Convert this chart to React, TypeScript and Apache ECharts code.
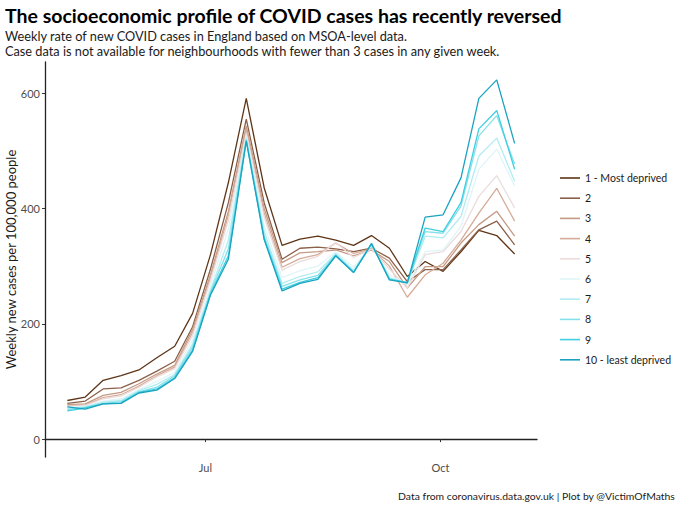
import React, { useEffect, useRef } from 'react';
import * as echarts from 'echarts';

const dates = [
  '2021-05-08', '2021-05-15', '2021-05-22', '2021-05-29', '2021-06-05', '2021-06-12',
  '2021-06-19', '2021-06-26', '2021-07-03', '2021-07-10', '2021-07-17', '2021-07-24',
  '2021-07-31', '2021-08-07', '2021-08-14', '2021-08-21', '2021-08-28', '2021-09-04',
  '2021-09-11', '2021-09-18', '2021-09-25', '2021-10-02', '2021-10-09', '2021-10-16',
  '2021-10-23', '2021-10-30'
];

const decileNames = [
  '1 - Most deprived', '2', '3', '4', '5', '6', '7', '8', '9', '10 - least deprived'
];

const decileColors = [
  '#5e3517', '#8b6049', '#c49a85', '#d6ab97', '#ecdcdc',
  '#dff5f8', '#b0ecf2', '#86e0ea', '#3fcfe0', '#1aa3c0'
];

const d1 = [67, 73, 102, 110, 120, 141, 161, 218, 320, 445, 591, 436, 336, 347, 352, 345, 336, 353, 331, 282, 308, 291, 325, 362, 353, 321];
const d2 = [62, 66, 87, 89, 102, 118, 135, 195, 295, 410, 555, 410, 312, 331, 333, 330, 325, 331, 314, 273, 294, 294, 328, 363, 378, 337];
const d3 = [60, 61, 76, 81, 96, 113, 128, 190, 285, 395, 543, 400, 306, 323, 325, 328, 318, 328, 308, 262, 299, 299, 340, 372, 395, 352];
const d4 = [58, 59, 72, 77, 92, 110, 125, 185, 280, 388, 538, 392, 298, 313, 320, 340, 322, 330, 300, 246, 285, 305, 345, 392, 435, 378];
const d5 = [57, 58, 70, 75, 90, 108, 122, 180, 275, 380, 530, 385, 293, 308, 317, 341, 315, 330, 295, 262, 320, 325, 360, 421, 457, 401];
const d6 = [55, 57, 66, 70, 86, 100, 116, 172, 265, 365, 525, 370, 280, 292, 300, 325, 298, 335, 285, 268, 325, 328, 369, 468, 503, 439];
const d7 = [53, 56, 64, 67, 84, 95, 112, 165, 258, 345, 522, 360, 270, 282, 290, 322, 293, 337, 280, 270, 352, 349, 386, 491, 522, 447];
const d8 = [51, 55, 62, 65, 82, 90, 110, 160, 255, 330, 520, 352, 265, 276, 284, 320, 290, 338, 278, 271, 360, 357, 404, 526, 561, 477];
const d9 = [49, 54, 61, 63, 81, 87, 107, 155, 252, 318, 518, 348, 260, 272, 280, 318, 289, 339, 277, 272, 366, 360, 410, 538, 570, 468];
const d10 = [56, 52, 61, 62, 80, 85, 105, 152, 250, 312, 517, 346, 257, 270, 277, 318, 289, 339, 276, 271, 385, 389, 453, 591, 623, 513];

const seriesValues = [d1, d2, d3, d4, d5, d6, d7, d8, d9, d10];

const xTickDates = ['2021-07-01', '2021-10-01'];
const xTickLabels = ['Jul', 'Oct'];
const yTicks = [0, 200, 400, 600];

const FONT = 'Lato, "Noto Sans", sans-serif';

// days since epoch, so the x axis can be a plain value axis
const toDay = (s: string) => Date.parse(s + 'T00:00:00Z') / 86400000;

const App: React.FC = () => {
  const chartRef = useRef<HTMLDivElement>(null);

  useEffect(() => {
    if (!chartRef.current) return;
    const chart = echarts.init(chartRef.current, undefined, { renderer: 'svg' });

    const days = dates.map(toDay);
    const span = days[days.length - 1] - days[0];
    const tickDays = xTickDates.map(toDay);

    const option = {
      animation: false,
      textStyle: { fontFamily: FONT },
      grid: { left: 45, right: 143, top: 62, bottom: 53, containLabel: false, outerBoundsMode: 'none' },
      graphic: [
        {
          type: 'text', left: 5, top: 5,
          style: { text: 'The socioeconomic profile of COVID cases has recently reversed', font: `bold 19.5px ${FONT}`, fill: '#000' }
        },
        {
          type: 'text', left: 5, top: 29,
          style: {
            text: 'Weekly rate of new COVID cases in England based on MSOA-level data.\nCase data is not available for neighbourhoods with fewer than 3 cases in any given week.',
            font: `12.75px ${FONT}`, lineHeight: 14.5, fill: '#1a1a1a'
          }
        },
        {
          type: 'text', right: 5, top: 491,
          style: { text: 'Data from coronavirus.data.gov.uk | Plot by @VictimOfMaths', font: `10.4px ${FONT}`, fill: '#1a1a1a' }
        }
      ],
      legend: {
        orient: 'vertical',
        left: 555,
        top: 167,
        icon: 'rect',
        itemWidth: 20,
        itemHeight: 1.6,
        itemGap: 8.2,
        textStyle: { fontFamily: FONT, fontSize: 10.5, lineHeight: 12, color: '#1a1a1a' },
        data: decileNames
      },
      xAxis: {
        type: 'value',
        min: days[0] - span * 0.05,
        max: days[days.length - 1] + span * 0.05,
        axisLine: { show: true, lineStyle: { color: '#222', width: 1.3 } },
        axisTick: { show: true, customValues: tickDays, length: 3, lineStyle: { color: '#333' } },
        axisLabel: {
          customValues: tickDays,
          color: '#4d4d4d',
          fontSize: 11,
          margin: 5,
          formatter: (v: number) => {
            const i = tickDays.findIndex((t) => Math.abs(t - v) < 0.5);
            return i >= 0 ? xTickLabels[i] : '';
          }
        },
        splitLine: { show: false }
      },
      yAxis: {
        type: 'value',
        min: -31,
        max: 654,
        name: 'Weekly new cases per 100,000 people',
        nameLocation: 'middle',
        nameGap: 28,
        nameMoveOverlap: false,
        nameTextStyle: { fontFamily: FONT, fontSize: 13, color: '#1a1a1a' },
        axisLine: { show: true, lineStyle: { color: '#222', width: 1.3 } },
        axisTick: { show: true, customValues: yTicks, length: 3, lineStyle: { color: '#333' } },
        axisLabel: { customValues: yTicks, color: '#4d4d4d', fontSize: 11, margin: 5 },
        splitLine: { show: false }
      },
      series: seriesValues.map((vals, i) => ({
        name: decileNames[i],
        type: 'line',
        symbol: 'none',
        z: 2 + i,
        data: vals.map((v, j) => [days[j], v]),
        lineStyle: { color: decileColors[i], width: 1.3 },
        itemStyle: { color: decileColors[i] }
      }))
    };

    chart.setOption(option);
    return () => {
      chart.dispose();
    };
  }, []);

  return (
    <div
      ref={chartRef}
      style={{ position: 'absolute', left: 0, top: 0, width: 680, height: 510, background: '#fff' }}
    />
  );
};

export default App;
